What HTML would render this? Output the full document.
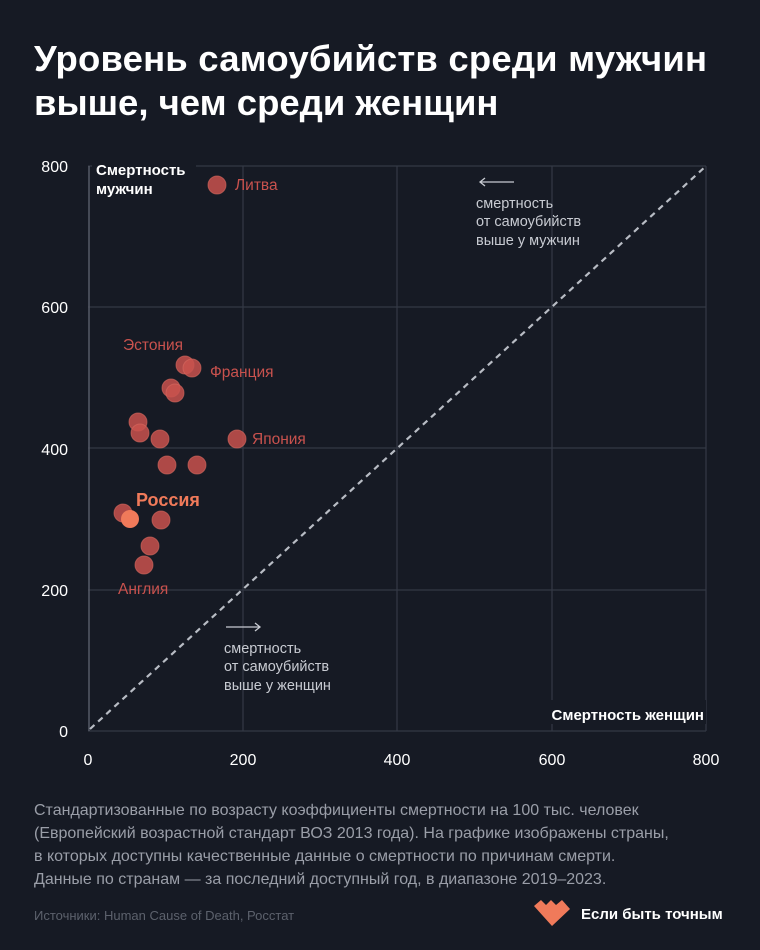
<!DOCTYPE html>
<html><head><meta charset="utf-8"><style>
body{margin:0;background:#161a24;}
svg{display:block}
text{font-family:"Liberation Sans","DejaVu Sans",sans-serif}
</style></head><body>
<svg width="760" height="950" viewBox="0 0 760 950">
<rect width="760" height="950" fill="#161a24"/>
<text x="34" y="71" fill="#ffffff" font-size="36.5" font-weight="bold" textLength="673">Уровень самоубийств среди мужчин</text>
<text x="34" y="115" fill="#ffffff" font-size="36.5" font-weight="bold">выше, чем среди женщин</text>
<g stroke="#343945" stroke-width="1.2">
<line x1="88" y1="166" x2="706" y2="166"/><line x1="88" y1="307" x2="706" y2="307"/>
<line x1="88" y1="448" x2="706" y2="448"/><line x1="88" y1="590" x2="706" y2="590"/>
<line x1="243" y1="166" x2="243" y2="731"/><line x1="397" y1="166" x2="397" y2="731"/>
<line x1="552" y1="166" x2="552" y2="731"/><line x1="706" y1="166" x2="706" y2="731"/>
<line x1="88" y1="731" x2="706" y2="731"/>
</g>
<line x1="89" y1="166" x2="89" y2="731" stroke="#555a66" stroke-width="1.5"/>
<line x1="90" y1="729" x2="706" y2="166" stroke="#b8bcc4" stroke-width="2.2" stroke-dasharray="6,5"/>
<rect x="92" y="158" width="104" height="42" fill="#161a24"/>
<rect x="528" y="700" width="178" height="24" fill="#161a24"/>
<g fill="#ffffff" font-size="15" font-weight="bold">
<text x="96" y="175">Смертность</text><text x="96" y="194">мужчин</text>
<text x="704" y="720" text-anchor="end">Смертность женщин</text>
</g>
<g fill="#ffffff" font-size="16" text-anchor="end">
<text x="68" y="172">800</text><text x="68" y="313">600</text><text x="68" y="455">400</text><text x="68" y="596">200</text><text x="68" y="737">0</text>
</g>
<g fill="#ffffff" font-size="16" text-anchor="middle">
<text x="88" y="765">0</text><text x="243" y="765">200</text><text x="397" y="765">400</text><text x="552" y="765">600</text><text x="706" y="765">800</text>
</g>
<g fill="#c8cbd2" font-size="14.5">
<text x="476" y="208">смертность</text><text x="476" y="226">от самоубийств</text><text x="476" y="245">выше у мужчин</text>
<text x="224" y="653">смертность</text><text x="224" y="671">от самоубийств</text><text x="224" y="690">выше у женщин</text>
</g>
<g stroke="#c8cbd2" stroke-width="1.3" fill="none">
<line x1="480" y1="182" x2="514" y2="182"/><polyline points="485,178 480,182 485,186"/>
<line x1="226" y1="627" x2="260" y2="627"/><polyline points="255,623 260,627 255,631"/>
</g>
<g fill="#c9524e" fill-opacity="0.85" stroke="#d86a60" stroke-opacity="0.6" stroke-width="1">
<circle cx="217" cy="185" r="9"/>
<circle cx="185" cy="365" r="9"/><circle cx="192" cy="368" r="9"/>
<circle cx="171" cy="388" r="9"/><circle cx="175" cy="393" r="9"/>
<circle cx="138" cy="422" r="9"/><circle cx="140" cy="433" r="9"/>
<circle cx="160" cy="439" r="9"/><circle cx="237" cy="439" r="9"/>
<circle cx="167" cy="465" r="9"/><circle cx="197" cy="465" r="9"/>
<circle cx="123" cy="513" r="9"/><circle cx="161" cy="520" r="9"/>
<circle cx="150" cy="546" r="9"/><circle cx="144" cy="565" r="9"/>
</g>
<circle cx="130" cy="519" r="9" fill="#f07a5a"/>
<g fill="#c9524e" font-size="15.5">
<text x="235" y="190">Литва</text>
<text x="123" y="350">Эстония</text>
<text x="210" y="377">Франция</text>
<text x="252" y="444">Япония</text>
<text x="118" y="594">Англия</text>
</g>
<text x="136" y="506" fill="#f07a5a" font-size="18" font-weight="bold">Россия</text>
<g fill="#9a9ea8" font-size="16">
<text x="34" y="815">Стандартизованные по возрасту коэффициенты смертности на 100 тыс. человек</text>
<text x="34" y="838">(Европейский возрастной стандарт ВОЗ 2013 года). На графике изображены страны,</text>
<text x="34" y="861">в которых доступны качественные данные о смертности по причинам смерти.</text>
<text x="34" y="884">Данные по странам — за последний доступный год, в диапазоне 2019–2023.</text>
</g>
<text x="34" y="920" fill="#5c616c" font-size="13">Источники: Human Cause of Death, Росстат</text>
<path d="M534 906 L541 900 L546 905 L551 900 L556 905 L562 900 L570 909 L552 926 Z" fill="#f07a5a"/>
<text x="581" y="919" fill="#ffffff" font-size="15" font-weight="bold">Если быть точным</text>
</svg>
</body></html>
